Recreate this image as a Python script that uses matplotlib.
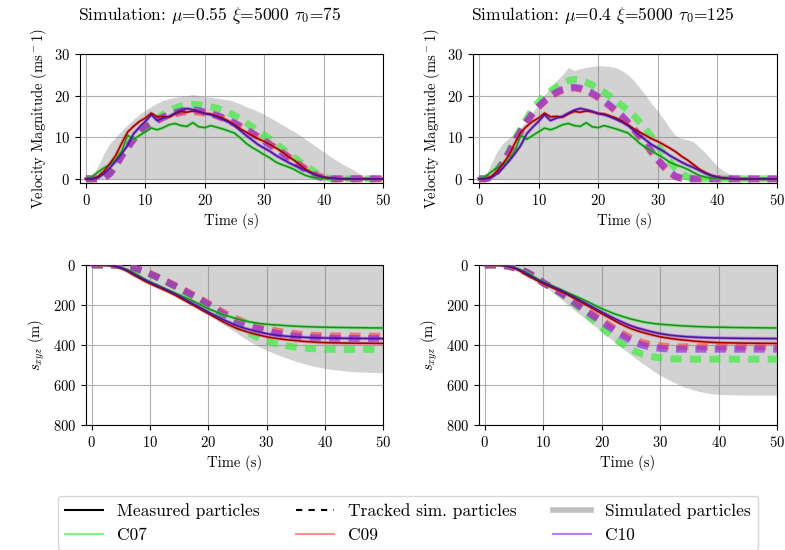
import numpy as np
import matplotlib
matplotlib.use("Agg")
import matplotlib.pyplot as plt
from matplotlib.lines import Line2D

plt.rcParams['font.family'] = 'serif'
plt.rcParams['font.serif'] = ['cmr10']
plt.rcParams['mathtext.fontset'] = 'cm'
plt.rcParams['axes.unicode_minus'] = False
plt.rcParams['axes.formatter.use_mathtext'] = True

# time axis (s), 1 s sampling
time = list(range(51))

# measured particles: velocity magnitude (m/s)
meas_vel_c07 = [0, 0.5, 1.6, 2.6, 3.4, 4.6, 6.5, 10.5, 9.5, 10.4, 11.3, 12.2, 11.8, 12.3, 13.0, 13.3, 12.8, 12.6,
                13.5, 12.5, 12.3, 12.8, 12.4, 12.0, 11.5, 11.0, 9.8, 8.5, 7.5, 6.7, 5.8, 5.0, 4.0, 3.4, 2.9, 2.3,
                1.5, 0.8, 0.4, 0.2, 0.1, 0, 0, 0, 0, 0, 0, 0, 0, 0, 0]
meas_vel_c09 = [0, 0, 0.5, 1.8, 3.6, 5.6, 8.5, 11.2, 12.6, 13.8, 14.6, 15.8, 14.9, 15.0, 14.8, 15.6, 16.2, 16.0,
                16.3, 16.1, 15.7, 15.6, 15.1, 14.6, 13.9, 13.0, 12.0, 11.2, 10.4, 9.6, 9.0, 8.2, 7.4, 6.5, 5.4, 4.5,
                3.4, 2.3, 1.5, 0.8, 0.4, 0.2, 0.1, 0, 0, 0, 0, 0, 0, 0, 0]
meas_vel_c10 = [0, 0, 0.2, 1.2, 2.6, 4.2, 6.0, 8.0, 10.8, 12.4, 13.8, 15.4, 14.0, 14.6, 15.0, 15.8, 16.5, 16.9,
                16.6, 16.2, 15.7, 15.4, 14.9, 14.3, 13.6, 12.8, 11.6, 10.4, 9.3, 8.2, 7.4, 6.6, 5.6, 4.8, 4.0, 3.3,
                2.7, 2.0, 1.3, 0.8, 0.4, 0.2, 0.1, 0, 0, 0, 0, 0, 0, 0, 0]

# measured particles: travelled distance (m)
meas_dist_c07 = [0, 0, 1, 3, 7, 14, 23, 36, 52, 70, 85, 98, 111, 124, 137, 149, 162, 175, 189, 204, 218, 230, 242,
                 252, 261, 270, 277, 284, 289, 293, 296, 298.5, 300.5, 302.5, 304.5, 306, 307.5, 308.5, 309.5, 310.5,
                 311, 311.5, 312, 312.5, 313, 313.3, 313.6, 314, 314.3, 314.6, 315]
meas_dist_c09 = [0, 0, 0.5, 2, 7, 16, 30, 47, 63, 79, 93, 106, 119, 132, 146, 162, 178, 194, 210, 227, 243, 259,
                 275, 291, 305, 318, 328, 337, 345, 352, 359, 364, 368, 372, 375, 378, 381, 383, 385, 387, 388,
                 388.8, 389.5, 390, 390.5, 390.8, 391, 391.3, 391.5, 391.8, 392]
meas_dist_c10 = [0, 0, 0.3, 1.5, 5, 13, 25, 41, 57, 73, 87, 100, 113, 126, 140, 155, 171, 187, 203, 219, 235, 250,
                 265, 279, 292, 304, 314, 322, 330, 337, 343, 348, 352, 355, 357.5, 359.5, 361, 362.5, 363.5, 364.5,
                 365, 365.5, 366, 366.4, 366.8, 367, 367.3, 367.5, 367.7, 367.9, 368]

# simulation 1 (mu=0.55, tau0=75): tracked particles velocity
simA_vel_c07 = [0, 0, 0, 0.3, 1.5, 3.5, 6, 8, 9.8, 11.3, 12.6, 13.7, 14.6, 15.5, 16.3, 17, 17.5, 17.8, 17.9, 17.8,
                17.6, 17.3, 17, 16.5, 16, 15.2, 14.4, 13.5, 12.5, 11.5, 10.5, 9.5, 8.4, 7.3, 6.2, 5.2, 4.1, 3.1,
                2.1, 1.2, 0.5, 0.1, 0, 0, 0, 0, 0, 0, 0, 0, 0]
simA_vel_c09 = [0, 0, 0, 0.2, 1.3, 3.2, 5.6, 7.6, 9.5, 11, 12.2, 13.2, 14, 14.7, 15.2, 15.6, 15.9, 16.1, 16.1, 16,
                15.8, 15.5, 15.1, 14.6, 14, 13.3, 12.6, 11.8, 11, 10.1, 9.3, 8.3, 7.4, 6.4, 5.4, 4.4, 3.4, 2.4,
                1.5, 0.8, 0.3, 0.1, 0, 0, 0, 0, 0, 0, 0, 0, 0]
simA_vel_c10 = [0, 0, 0, 0.2, 1.2, 3, 5.5, 7.5, 9.5, 11, 12.3, 13.3, 14.1, 14.9, 15.4, 15.9, 16.3, 16.5, 16.6, 16.4,
                16.1, 15.7, 15.3, 14.7, 14.1, 13.4, 12.6, 11.8, 10.9, 10, 9.1, 8.1, 7.2, 6.2, 5.2, 4.1, 3.1, 2.1,
                1.2, 0.5, 0.1, 0, 0, 0, 0, 0, 0, 0, 0, 0, 0]
# simulation 1: all simulated particles (envelope)
simA_vel_env = [0, 0.3, 3, 6, 8.5, 10, 11.5, 13, 14.3, 15.5, 16.5, 17.4, 18.2, 18.9, 19.3, 19.6, 19.8, 20, 20.3,
                19.9, 19.7, 19.6, 19.4, 19.2, 19, 18.5, 18, 17.3, 16.8, 16.2, 15.5, 14.7, 13.9, 13, 12.2, 11.4,
                10.5, 9.5, 8.5, 7.5, 6.5, 5.5, 4.6, 3.7, 2.9, 2.2, 1.3, 0.5, 0, 0, 0]
simA_dist_c07 = [0, 0, 0, 0, 1, 4, 8.5, 15, 23, 33, 45, 58, 72, 87, 103, 119, 135, 152, 170, 189, 208, 228, 248,
                 268, 287, 305, 323, 340, 355, 368, 379, 388, 396, 402, 407, 411, 414, 416.5, 418.5, 420, 421,
                 421.5, 422, 422, 422, 422, 422, 422, 422, 422, 422]
simA_dist_c09 = [0, 0, 0, 0, 1, 3.5, 7.5, 13.5, 21, 31, 43, 56, 70, 84, 98, 113, 128, 143, 159, 175, 192, 209, 227,
                 244, 258, 271, 283, 293, 302, 311, 318, 325, 331, 336, 340, 343.5, 346.5, 349, 351, 352.5, 353.5,
                 354, 354.5, 355, 355.3, 355.6, 355.8, 356, 356, 356, 356]
simA_dist_c10 = [0, 0, 0, 0, 1, 4, 8, 14, 22, 32, 45, 58, 72, 86, 101, 116, 131, 147, 163, 180, 198, 216, 235, 252,
                 267, 280, 292, 303, 313, 322, 330, 337, 343, 348, 352, 355.5, 358.5, 361, 363, 364.5, 365.5, 366,
                 366.5, 367, 367.3, 367.6, 367.8, 368, 368, 368, 368]
simA_dist_env = [0, 0, 1, 3, 8, 17, 31, 48, 65, 81, 96, 110, 123, 137, 151, 166, 182, 198, 214, 230, 246, 265, 285,
                 305, 323, 342, 362, 381, 397, 412, 426, 438, 450, 461, 471, 481, 490, 498, 505, 511, 517, 521, 525,
                 528, 531, 533, 535, 536, 537, 537.5, 538]

# simulation 2 (mu=0.4, tau0=125)
simB_vel_c07 = [0, 0, 0.5, 2, 4, 6.5, 9.5, 12, 14.5, 16.8, 18.5, 19.9, 21.1, 22.1, 23, 23.6, 23.9, 23.7, 23.2, 22.5,
                21.7, 20.8, 19.8, 18.7, 17.6, 16.5, 15.2, 13.6, 11.9, 10, 8, 6, 4.2, 2.5, 1.2, 0.4, 0, 0, 0, 0, 0,
                0, 0, 0, 0, 0, 0, 0, 0, 0, 0]
simB_vel_c09 = [0, 0, 0.3, 1.6, 3.6, 6, 8.8, 11.3, 13.6, 15.6, 17.2, 18.6, 19.7, 20.6, 21.3, 21.7, 21.8, 21.6, 21.1,
                20.4, 19.5, 18.5, 17.4, 16.2, 14.9, 13.4, 11.8, 10, 8.2, 6.3, 4.5, 2.9, 1.5, 0.5, 0.1, 0, 0, 0, 0,
                0, 0, 0, 0, 0, 0, 0, 0, 0, 0, 0, 0]
simB_vel_c10 = [0, 0, 0.4, 1.8, 3.8, 6.2, 9, 11.5, 13.8, 15.8, 17.4, 18.8, 19.9, 20.8, 21.5, 21.9, 22, 21.8, 21.3,
                20.6, 19.7, 18.7, 17.6, 16.4, 15.1, 13.6, 12, 10.2, 8.4, 6.5, 4.6, 3, 1.6, 0.6, 0.1, 0, 0, 0, 0, 0,
                0, 0, 0, 0, 0, 0, 0, 0, 0, 0, 0]
simB_vel_env = [0, 0.3, 3.5, 6.5, 8.5, 9.8, 11, 12.3, 14, 16, 18, 20.2, 22, 23.6, 25, 26.8, 26, 26.5, 26.8, 27, 27.2,
                27.1, 27, 26.7, 26, 25, 23.6, 21.8, 20, 18, 16.3, 14.3, 12.2, 10.4, 9.7, 9.4, 8.9, 7.6, 6.2, 4.6, 3,
                2, 1.2, 0.6, 0.2, 0, 0, 0, 0, 0, 0]
simB_dist_c07 = [0, 0, 0.5, 2, 6, 13, 22, 34, 50, 68, 90, 106, 124, 143, 164, 186, 210, 235, 261, 287, 313, 338, 362,
                 384, 404, 421, 435, 446, 454, 460, 464, 467, 469, 470, 471, 471, 471, 471, 471, 471, 471, 471, 471,
                 471, 471, 471, 471, 471, 471, 471, 471]
simB_dist_c09 = [0, 0, 0.5, 2, 6, 13, 22, 34, 50, 68, 89, 104, 120, 138, 157, 177, 198, 218, 238, 257, 276, 295, 314,
                 333, 350, 365, 378, 388, 395, 400, 404, 406.5, 408, 409, 409, 409, 409, 409, 409, 409, 409, 409,
                 409, 409, 409, 409, 409, 409, 409, 409, 409]
simB_dist_c10 = [0, 0, 0.5, 2, 6, 13, 22, 34, 50, 68, 90, 105, 122, 140, 160, 181, 203, 224, 244, 264, 284, 304, 324,
                 344, 362, 378, 391, 401, 408, 413, 416.5, 419, 420.5, 421, 421, 421, 421, 421, 421, 421, 421, 421,
                 421, 421, 421, 421, 421, 421, 421, 421, 421]
simB_dist_env = [0, 0, 0, 1, 4, 10, 20, 33, 50, 72, 98, 122, 146, 170, 194, 218, 241, 264, 287, 310, 334, 357, 380,
                 403, 426, 449, 471, 492, 513, 533, 551, 567, 582, 596, 608, 618, 627, 634, 640, 644, 647, 648, 649,
                 649.5, 650, 650, 650, 650, 650, 650, 650]

cams = ['C07', 'C09', 'C10']
light = {'C07': '#33ee33', 'C09': '#ff4444', 'C10': '#8a2be2'}
dark = {'C07': '#1f8a1f', 'C09': '#9a0000', 'C10': '#4a1596'}

meas_vel = {'C07': meas_vel_c07, 'C09': meas_vel_c09, 'C10': meas_vel_c10}
meas_dist = {'C07': meas_dist_c07, 'C09': meas_dist_c09, 'C10': meas_dist_c10}
simA_vel = {'C07': simA_vel_c07, 'C09': simA_vel_c09, 'C10': simA_vel_c10}
simB_vel = {'C07': simB_vel_c07, 'C09': simB_vel_c09, 'C10': simB_vel_c10}
simA_dist = {'C07': simA_dist_c07, 'C09': simA_dist_c09, 'C10': simA_dist_c10}
simB_dist = {'C07': simB_dist_c07, 'C09': simB_dist_c09, 'C10': simB_dist_c10}

W, H = 785, 550
fig = plt.figure(figsize=(W / 100, H / 100), dpi=100)


def px_axes(l, t, r, b):
    return fig.add_axes([l / W, 1 - b / H, (r - l) / W, (b - t) / H])


ax_tl = px_axes(80, 54, 383, 183)
ax_tr = px_axes(473, 54, 777, 183)
ax_bl = px_axes(86, 265, 383, 425)
ax_br = px_axes(479, 265, 777, 425)

FS = 10.5


def draw(ax, env, sim, meas, dist=False):
    ax.fill_between(time, 0, env, color='gray', alpha=0.35, lw=0, zorder=1)
    for c in cams:
        ax.plot(time, sim[c], color=light[c], alpha=0.65, lw=5, ls=(0, (1.6, 1.2)),
                solid_capstyle='butt', dash_capstyle='butt', zorder=3)
    for c in cams:
        ax.plot(time, meas[c], color=light[c], alpha=0.5, lw=2.4, zorder=4)
        ax.plot(time, meas[c], color=dark[c], lw=1.1, zorder=5)
    ax.set_xlim(-1, 50)
    ax.set_xticks([0, 10, 20, 30, 40, 50])
    ax.grid(True, color='#b0b0b0', lw=0.8)
    ax.set_axisbelow(True)
    ax.set_xlabel('Time (s)', fontsize=FS)
    ax.tick_params(labelsize=FS)
    if dist:
        ax.set_ylim(800, 0)
        ax.set_yticks([0, 200, 400, 600, 800])
        ax.set_ylabel(r'$s_{xyz}$ (m)', fontsize=FS)
    else:
        ax.set_ylim(-1, 30)
        ax.set_yticks([0, 10, 20, 30])
        ax.set_ylabel(r'Velocity Magnitude (ms$^-1$)', fontsize=FS)


draw(ax_tl, simA_vel_env, simA_vel, meas_vel)
draw(ax_tr, simB_vel_env, simB_vel, meas_vel)
draw(ax_bl, simA_dist_env, simA_dist, meas_dist, dist=True)
draw(ax_br, simB_dist_env, simB_dist, meas_dist, dist=True)

fig.text(210 / W, 1 - 15 / H, r'Simulation: $\mu$=0.55 $\xi$=5000 $\tau_0$=75', ha='center', va='center',
         fontsize=12.6)
fig.text(603 / W, 1 - 15 / H, r'Simulation: $\mu$=0.4 $\xi$=5000 $\tau_0$=125', ha='center', va='center',
         fontsize=12.6)

handles = [Line2D([], [], color='black', lw=1.5),
           Line2D([], [], color=light['C07'], alpha=0.6, lw=1.5),
           Line2D([], [], color='black', lw=1.5, ls=(0, (3, 3))),
           Line2D([], [], color=light['C09'], alpha=0.6, lw=1.5),
           Line2D([], [], color='gray', alpha=0.5, lw=4),
           Line2D([], [], color=light['C10'], alpha=0.6, lw=1.5)]
labels = ['Measured particles', 'C07', 'Tracked sim. particles', 'C09', 'Simulated particles', 'C10']
fig.legend(handles, labels, loc='upper center', bbox_to_anchor=(408 / W, 1 - 496 / H), ncol=3,
           fontsize=12.5, handlelength=2.2, columnspacing=2.1, frameon=True, borderaxespad=0)

fig.savefig('out.png', dpi=100)
